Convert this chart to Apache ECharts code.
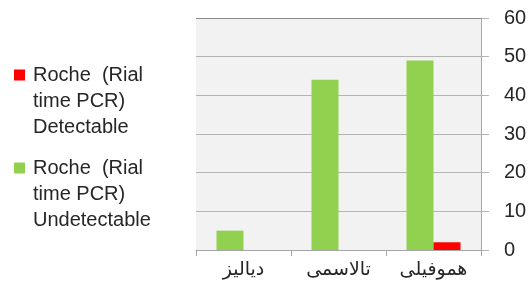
<!DOCTYPE html>
<html>
<head>
<meta charset="utf-8">
<script src="https://cdn.jsdelivr.net/npm/echarts@6/dist/echarts.min.js"></script>
<style>
  html, body { margin: 0; padding: 0; background: #fff; }
  #chart { width: 530px; height: 289px; }
</style>
</head>
<body>
<div id="chart"></div>
<script>
// categories (left to right as drawn)
const categories = ['دیالیز', 'تالاسمی', 'هموفیلی'];
const yTicks = [0, 10, 20, 30, 40, 50, 60];

const undetectableName = 'Roche  (Rial time PCR) Undetectable';
const detectableName = 'Roche  (Rial time PCR) Detectable';
const undetectableValues = [5, 44, 49];
const detectableValues = [0, 0, 2];

// two blank lines on top so the marker sits next to the first text line
const legendLines = {};
legendLines[detectableName] = '\n\nRoche  (Rial\ntime PCR)\nDetectable';
legendLines[undetectableName] = '\n\nRoche  (Rial\ntime PCR)\nUndetectable';

const chart = echarts.init(document.getElementById('chart'));

const legendBase = {
    orient: 'vertical',
    left: 14,
    padding: 0,
    icon: 'rect',
    itemWidth: 11,
    itemHeight: 11,
    selectedMode: false,
    formatter: name => legendLines[name],
    textStyle: {
        fontFamily: 'Liberation Sans',
        fontSize: 20,
        lineHeight: 26,
        color: '#262626',
        padding: [0, 0, 0, 3]
    }
};

// top gridline is a bit darker in the original
const gridColors = yTicks.map((t, i) => i === yTicks.length - 1 ? '#8c8c8c' : '#b4b4b4');

const option = {
    animation: false,
    legend: [
        Object.assign({}, legendBase, { top: 10, data: [detectableName] }),
        Object.assign({}, legendBase, { top: 103, data: [undetectableName] })
    ],
    grid: {
        left: 196,
        right: 49,
        top: 18,
        bottom: 39,
        show: true,
        backgroundColor: '#f2f2f2',
        borderWidth: 0
    },
    xAxis: {
        type: 'category',
        data: categories,
        axisLine: { lineStyle: { color: '#a6a6a6', width: 1 } },
        axisTick: { show: true, length: 6, lineStyle: { color: '#a6a6a6' } },
        axisLabel: {
            fontFamily: 'DejaVu Sans',
            fontSize: 19,
            color: '#262626',
            margin: 11
        }
    },
    yAxis: {
        type: 'value',
        position: 'right',
        min: yTicks[0],
        max: yTicks[yTicks.length - 1],
        interval: 10,
        axisLine: { show: true, lineStyle: { color: '#a6a6a6' } },
        axisTick: { show: true, length: 8, lineStyle: { color: '#b4b4b4' } },
        splitLine: { lineStyle: { color: gridColors, width: 1 } },
        axisLabel: {
            fontFamily: 'Liberation Sans',
            fontSize: 20,
            color: '#262626',
            align: 'left',
            margin: 23
        }
    },
    series: [
        {
            name: undetectableName,
            type: 'bar',
            data: undetectableValues,
            barWidth: 27,
            barGap: '0%',
            itemStyle: { color: '#92d050' }
        },
        {
            name: detectableName,
            type: 'bar',
            data: detectableValues,
            barWidth: 27,
            barGap: '0%',
            itemStyle: { color: '#ff0000' }
        }
    ]
};

chart.setOption(option);
</script>
</body>
</html>
